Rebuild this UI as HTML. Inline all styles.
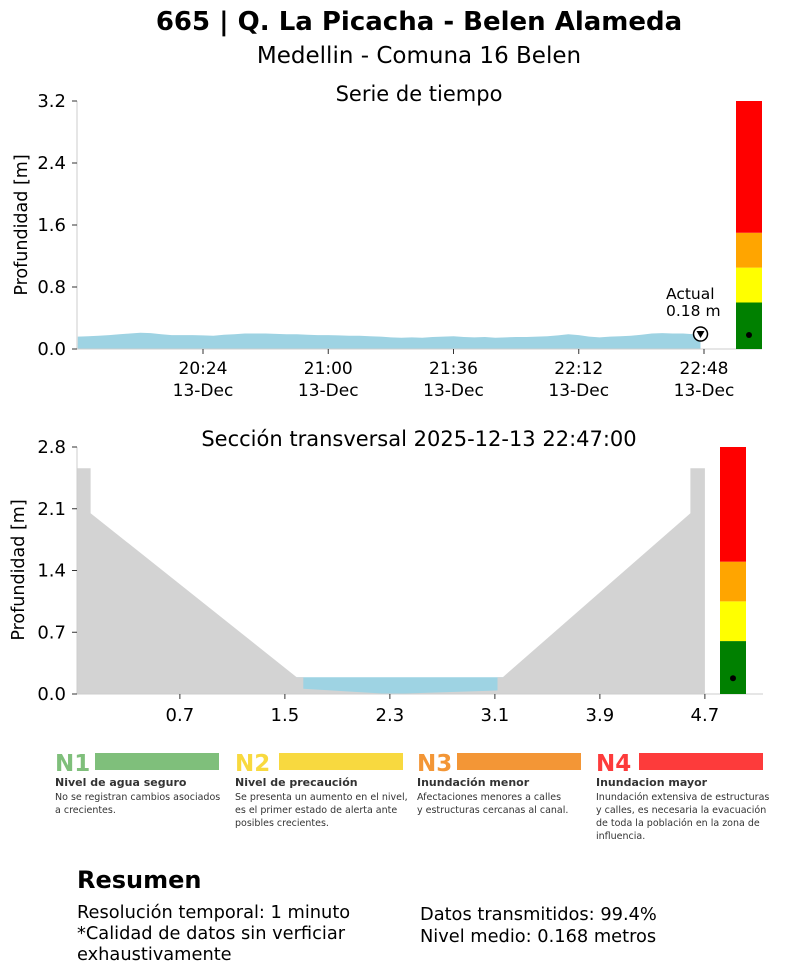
<!DOCTYPE html>
<html><head><meta charset="utf-8">
<style>
body{margin:0;background:#fff;width:812px;height:973px;overflow:hidden;font-family:"DejaVu Sans","Liberation Sans",sans-serif}
svg text{font-family:"DejaVu Sans","Liberation Sans",sans-serif}
</style></head>
<body>
<svg id="chart" width="812" height="973" viewBox="0 0 812 973" xmlns="http://www.w3.org/2000/svg">
<text x="419" y="30" font-size="26" font-weight="bold" text-anchor="middle">665 | Q. La Picacha - Belen Alameda</text>
<text x="419" y="63" font-size="23" text-anchor="middle">Medellin - Comuna 16 Belen</text>
<g id="topChart"></g>
<g id="botChart"></g>
<g id="legend"></g>
<g>
<text x="77" y="888" font-size="24" font-weight="bold">Resumen</text>
<text x="77" y="918" font-size="17.8">Resolución temporal: 1 minuto</text>
<text x="77" y="939" font-size="17.8">*Calidad de datos sin verficiar</text>
<text x="77" y="960" font-size="17.8">exhaustivamente</text>
<text x="420" y="920" font-size="17.8">Datos transmitidos: 99.4%</text>
<text x="420" y="942" font-size="17.8">Nivel medio: 0.168 metros</text>
</g>
</svg>
<script>
const NS="http://www.w3.org/2000/svg";
// ---- time series data ----
const startMinute=1188; // 19:48
const stepMinutes=3;
const depthValues=[0.16,0.165,0.17,0.18,0.19,0.2,0.21,0.205,0.19,0.18,0.18,0.18,0.175,0.17,0.185,0.19,0.2,0.2,0.2,0.195,0.19,0.19,0.185,0.18,0.18,0.175,0.17,0.17,0.165,0.16,0.15,0.145,0.15,0.145,0.155,0.16,0.165,0.155,0.15,0.155,0.145,0.15,0.155,0.155,0.16,0.165,0.175,0.19,0.18,0.16,0.15,0.16,0.165,0.17,0.185,0.2,0.205,0.2,0.2,0.19,0.18];
const currentMinute=1367;
const currentDepth=0.18;
const topYTicks=[0,0.8,1.6,2.4,3.2];
const topXTicks=[1224,1260,1296,1332,1368];
const topXLabels=["20:24","21:00","21:36","22:12","22:48"];
const alertLevels=[0,0.6,1.05,1.5];
const alertColors=["green","yellow","orange","red"];
// ---- cross-section data ----
const groundX=[-0.08,0.02,0.02,1.59,1.64,1.64,2.3,3.12,3.12,3.16,4.59,4.59,4.7,4.7,-0.08];
const groundY=[2.56,2.56,2.05,0.19,0.19,0.06,0.0,0.04,0.19,0.19,2.05,2.56,2.56,0,0];
const waterLevel=0.19;
const botYTicks=[0,0.7,1.4,2.1,2.8];
const botXTicks=[0.7,1.5,2.3,3.1,3.9,4.7];
const botAlertLevels=[0,0.6,1.05,1.5];

function el(tag,attrs,parent,text){const e=document.createElementNS(NS,tag);for(const k in attrs)e.setAttribute(k,attrs[k]);if(text!==undefined)e.textContent=text;parent.appendChild(e);return e;}
const topG=document.getElementById('topChart');
const tx=m=>203+(m-1224)*(501/144);
const ty=v=>349-v*(248/3.2);
let d=`M${tx(startMinute)},${ty(0)}`;
depthValues.forEach((v,i)=>{const m=Math.min(startMinute+i*stepMinutes,currentMinute);d+=` L${tx(m).toFixed(1)},${ty(v).toFixed(1)}`;});
d+=` L${tx(currentMinute)},${ty(0)} Z`;
const area=el('path',{d:d,fill:'#9ed3e3'},topG);


el('line',{x1:77,y1:101,x2:77,y2:349,stroke:'#ccc'},topG);
el('line',{x1:77,y1:349,x2:762,y2:349,stroke:'#ccc'},topG);
topYTicks.forEach(v=>{el('line',{x1:72,x2:77,y1:ty(v),y2:ty(v),stroke:'#333'},topG);
const t=el('text',{x:66,y:ty(v)+6,'font-size':18,'text-anchor':'end'},topG,v.toFixed(1));

});
topXTicks.forEach((m,i)=>{el('line',{x1:tx(m),x2:tx(m),y1:349,y2:354,stroke:'#333'},topG);
const t=el('text',{x:tx(m),y:374,'font-size':17,'text-anchor':'middle'},topG,topXLabels[i]);


const t2=el('text',{x:tx(m),y:396,'font-size':17,'text-anchor':'middle'},topG,'13-Dec');

});
const yt=el('text',{x:0,y:0,'font-size':17.5,'text-anchor':'middle',transform:'translate(27,225) rotate(-90)'},topG,'Profundidad [m]');


const st=el('text',{x:419,y:101,'font-size':21,'text-anchor':'middle'},topG,'Serie de tiempo');


alertLevels.forEach((lv,i)=>{const hi=i<alertLevels.length-1?alertLevels[i+1]:3.2;
const r=el('rect',{x:736,y:ty(hi),width:26,height:ty(lv)-ty(hi),fill:alertColors[i]},topG);

});
el('circle',{cx:749,cy:ty(currentDepth),r:3,fill:'#000'},topG);
const cx=tx(currentMinute),cy=ty(currentDepth)-1;
const mk=el('g',{},topG);


el('circle',{cx:cx,cy:cy,r:7,fill:'#fff',stroke:'#000','stroke-width':1.5},mk);
el('path',{d:`M${cx-4},${cy-3} L${cx+4},${cy-3} L${cx},${cy+4} Z`,fill:'#000'},mk);
const a1=el('text',{x:666,y:299,'font-size':15.5},topG,'Actual');


const a2=el('text',{x:666,y:316,'font-size':15.5},topG,currentDepth.toFixed(2)+' m');



// ---- cross section ----
const botG=document.getElementById('botChart');
const bx=v=>88+v*131.25;
const by=v=>694-v*(247/2.8);
const w=el('rect',{x:bx(1.5),y:by(waterLevel),width:bx(3.25)-bx(1.5),height:by(0)-by(waterLevel),fill:'#9ed3e3'},botG);


const gp=groundX.map((x,i)=>bx(x).toFixed(1)+','+by(groundY[i]).toFixed(1)).join(' ');
const g=el('polygon',{points:gp,fill:'#d3d3d3'},botG);


el('line',{x1:77,y1:447,x2:77,y2:694,stroke:'#ccc'},botG);
el('line',{x1:77,y1:694,x2:763,y2:694,stroke:'#ccc'},botG);
botYTicks.forEach(v=>{el('line',{x1:72,x2:77,y1:by(v),y2:by(v),stroke:'#333'},botG);
const t=el('text',{x:66,y:by(v)+6,'font-size':18,'text-anchor':'end'},botG,v.toFixed(1));

});
botXTicks.forEach(v=>{el('line',{x1:bx(v),x2:bx(v),y1:694,y2:699,stroke:'#333'},botG);
const t=el('text',{x:bx(v),y:721,'font-size':18,'text-anchor':'middle'},botG,v.toFixed(1));

});
const yt2=el('text',{x:0,y:0,'font-size':17.5,'text-anchor':'middle',transform:'translate(24,570) rotate(-90)'},botG,'Profundidad [m]');


const st2=el('text',{x:419,y:446,'font-size':21,'text-anchor':'middle'},botG,'Sección transversal 2025-12-13 22:47:00');


botAlertLevels.forEach((lv,i)=>{const hi=i<botAlertLevels.length-1?botAlertLevels[i+1]:2.8;
const r=el('rect',{x:720,y:by(hi),width:26,height:by(lv)-by(hi),fill:alertColors[i]},botG);

});
el('circle',{cx:733,cy:by(waterLevel)+1,r:3,fill:'#000'},botG);

// ---- legend ----
const lg=document.getElementById('legend');
const legendItems=[
{n:'N1',x:55,bx:95,c:'#7fbf7b',t:'Nivel de agua seguro',d:['No se registran cambios asociados','a crecientes.']},
{n:'N2',x:235,bx:279,c:'#f8d93f',t:'Nivel de precaución',d:['Se presenta un aumento en el nivel,','es el primer estado de alerta ante','posibles crecientes.']},
{n:'N3',x:417,bx:457,c:'#f39636',t:'Inundación menor',d:['Afectaciones menores a calles','y estructuras cercanas al canal.']},
{n:'N4',x:596,bx:639,c:'#fd3b3b',t:'Inundacion mayor',d:['Inundación extensiva de estructuras','y calles, es necesaria la evacuación','de toda la población en la zona de','influencia.']}];
legendItems.forEach(it=>{
const gg=el('g',{},lg);


el('text',{x:it.x,y:771,'font-size':23,'font-weight':'bold',fill:it.c,'font-family':'Liberation Sans, sans-serif'},gg,it.n);
el('rect',{x:it.bx,y:753,width:124,height:17,fill:it.c},gg);
el('text',{x:it.x,y:786,'font-size':11,'font-weight':'bold',fill:'#333','font-family':'Liberation Sans, sans-serif'},gg,it.t);
it.d.forEach((s,k)=>el('text',{x:it.x,y:800+k*13,'font-size':9.5,fill:'#333','font-family':'Liberation Sans, sans-serif'},gg,s));
});
</script>
</body></html>
